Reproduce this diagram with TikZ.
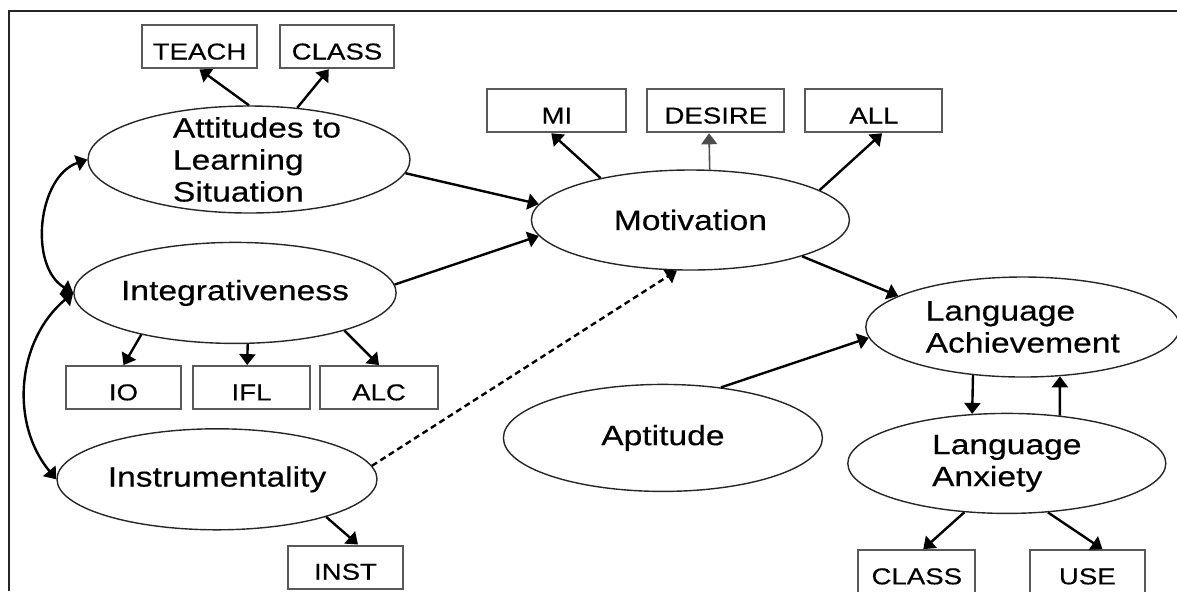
\documentclass[tikz,border=0pt]{standalone}
\usepackage{fontspec}
\setmainfont{Liberation Sans}[FakeStretch=1.2, FakeBold=0.4]
\usetikzlibrary{arrows.meta, positioning, shapes.geometric}

\begin{document}
\begin{tikzpicture}[
        > = {Triangle[length=5.5pt, width=8pt]}, % arrow head style
        line width=1.2pt, % line style
        font=\fontsize{14pt}{16pt}\selectfont
    ]
        \tikzstyle{latent}=[
            ellipse,
            draw = black!85,
            line width = 0.7pt,
            inner sep = 0pt,
            minimum width = 159pt,
            minimum height = 50pt,
            align = left
        ]
        \tikzstyle{obs}=[
            rectangle,
            draw = black!65,
            line width = 1pt,
            minimum width = 57.5pt,
            minimum height = 21.5pt,
            text height = 12.7pt,
            text depth = 0pt,
            font = \fontsize{11.5pt}{13pt}\selectfont
        ]
        \useasboundingbox (0,0) rectangle (588.5pt,-295.5pt);
        \draw[line width=1pt, black!85] (4.5pt,-295.5pt) -- (4.5pt,-5.25pt) -- (588.5pt,-5.25pt);

        % left column
        \node[latent, minimum width=161pt, minimum height=53.5pt,
            label={[align=left, xshift=4pt]center:Attitudes to\\Learning\\Situation}]
            (att) at (124.5pt,-79.75pt) {};
        \node[latent, minimum width=160pt, minimum height=50.5pt] (integ) [below=14pt of att, xshift=-7pt] {Integrativeness};
        \node[latent, minimum width=160pt, minimum height=50.5pt] (instr) [below=42pt of integ, xshift=-9pt] {Instrumentality};

        \node[obs] (teach) [above=18pt of att, xshift=-24.75pt] {TEACH};
        \node[obs, minimum width=57pt] (classa) [right=10.5pt of teach] {CLASS};
        \node[obs, minimum width=58.5pt] (ifl) [below=10.5pt of integ, xshift=8.25pt] {IFL};
        \node[obs] (io) [left=5pt of ifl] {IO};
        \node[obs, minimum width=59pt] (alc) [right=4pt of ifl] {ALC};
        \node[obs] (inst) [below=7pt of instr, xshift=64.25pt] {INST};

        % middle and right
        \node[latent] (motiv) [right=60pt of att, yshift=-30.25pt] {Motivation};
        \node[obs, minimum width=68.5pt] (desire) [above=18pt of motiv, xshift=12.75pt] {DESIRE};
        \node[obs, minimum width=69.5pt] (mi) [left=9.5pt of desire] {MI};
        \node[obs, minimum width=68.5pt] (all) [right=9.5pt of desire] {ALL};
        \node[latent, minimum width=159.5pt, minimum height=53.5pt] (apt) [below=56.5pt of motiv, xshift=-13.75pt] {Aptitude};
        \node[latent, minimum width=157pt] (lach) [right=7.5pt of motiv, yshift=-53.5pt] {Language\\Achievement};
        \node[latent] (lanx) [below=17.5pt of lach, xshift=-8pt] {Language\\Anxiety};
        \node[obs, minimum width=58.5pt] (classb) [below=17.5pt of lanx, xshift=-45pt] {CLASS};
        \node[obs] (use) [right=26.25pt of classb] {USE};

        \path[->] (att.north) edge (teach.south)
            (att.47) edge (classa.250);
        \path[->] (att.-5) edge (motiv.174)
            (integ.3) edge (motiv.186);
        \path[->] (instr.5) edge[densely dashed] (motiv.255);

        \path[->] (motiv.155) edge (mi.256)
            (motiv.69) edge[draw=black!70, line width=0.8pt] (desire.253)
            (motiv.13) edge (all.290)
            (motiv.342) edge (lach.166);
        \path[->] (apt.41) edge (lach.184);
        \path[->] (lach.224) edge (lanx.125);
        \path[->] (lanx.42) edge (lach.307);
        \path[->] (lanx.229) edge (classb.74)
            (lanx.310) edge (use.56);

        \path[->] (integ.204) edge (io.north)
            (integ.284) edge (ifl.101)
            (integ.341) edge (alc.north);
        \path[->] (instr.341) edge (inst.61);

        \path[<->] (att.west) edge[bend right=65] (integ.west)
            (integ.west) edge[bend right=45] (instr.west);
    \end{tikzpicture}
\end{document}
